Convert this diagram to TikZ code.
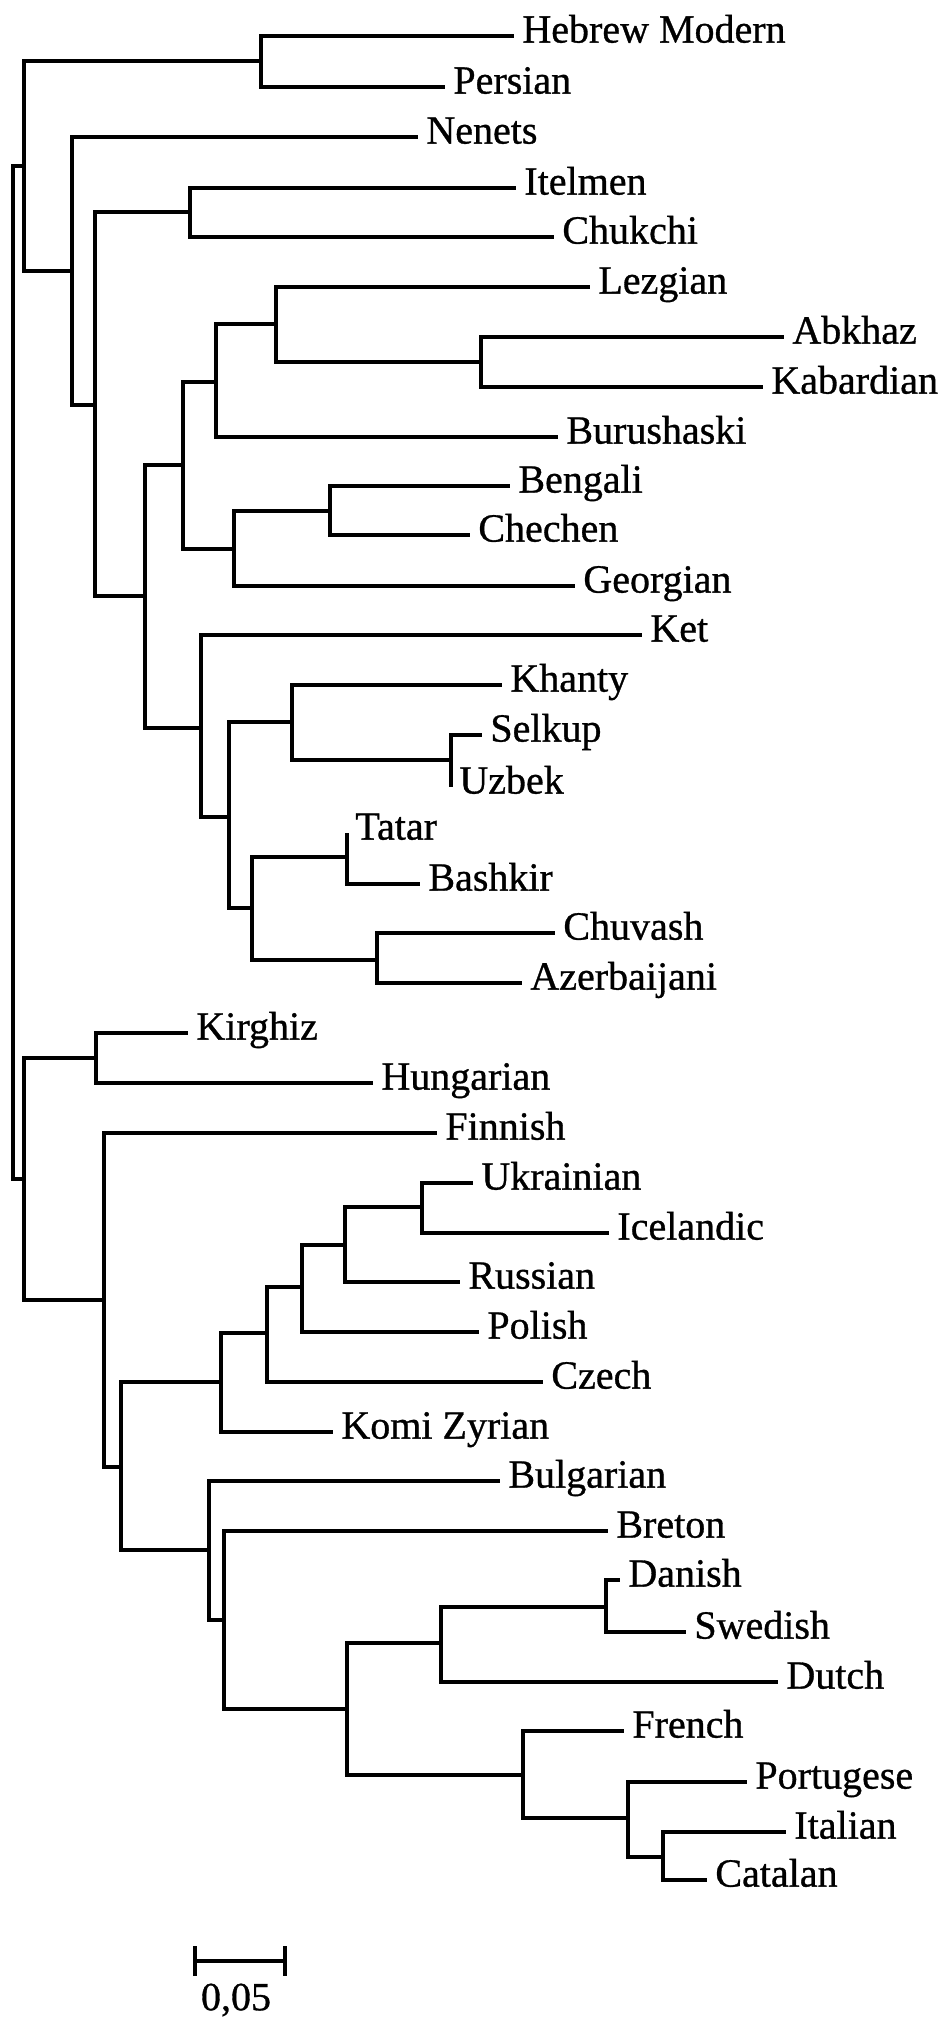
\documentclass[tikz,border=0pt]{standalone}
\usepackage{fontspec}
\setmainfont{Liberation Serif}
\newfontfamily\leaffont{Liberation Serif}[FakeBold=0.8]
\usetikzlibrary{arrows.meta}

\begin{document}
\begin{tikzpicture}[x=0.5pt,y=-0.5pt]
\tikzstyle{leaf} = [anchor=west, inner xsep=4pt, inner ysep=0pt, text height=0.66em, text depth=0pt, font=\leaffont\fontsize{20}{24}\selectfont]
\tikzstyle{branch} = [draw, line width=1.8pt]
\useasboundingbox (0,0) rectangle (945,2017);
% inner nodes
\coordinate (root) at (13,672);
\coordinate (nA) at (24,166);
\coordinate (nHP) at (261,61);
\coordinate (nN) at (72,271);
\coordinate (nC) at (95,405);
\coordinate (nIC) at (190,212);
\coordinate (nD) at (145,596);
\coordinate (nE) at (183,465);
\coordinate (nF) at (216,382);
\coordinate (nL) at (276,324);
\coordinate (nAK) at (481,362);
\coordinate (nG) at (234,549);
\coordinate (nBC) at (330,511);
\coordinate (nK) at (201,728);
\coordinate (nT) at (229,817);
\coordinate (nKh) at (292,722);
\coordinate (nSU) at (451,760);
\coordinate (nTu) at (252,908);
\coordinate (nTB) at (347,857);
\coordinate (nCA) at (377,960);
\coordinate (nB) at (24,1179);
\coordinate (nKH) at (96,1058);
\coordinate (nFi) at (104,1300);
\coordinate (nIE) at (121,1467);
\coordinate (nSl) at (221,1382);
\coordinate (nS2) at (267,1333);
\coordinate (nS3) at (302,1287);
\coordinate (nS4) at (345,1245);
\coordinate (nUI) at (422,1207);
\coordinate (nRo) at (209,1550);
\coordinate (nBr) at (224,1620);
\coordinate (nGR) at (347,1709);
\coordinate (nGm) at (441,1643);
\coordinate (nDS) at (606,1607);
\coordinate (nRm) at (523,1775);
\coordinate (nPI) at (628,1818);
\coordinate (nIt) at (663,1857);
% leaves
\node [leaf] (hebrew) at (514,36) {Hebrew Modern};
\node [leaf] (persian) at (445,87) {Persian};
\node [leaf] (nenets) at (418,137) {Nenets};
\node [leaf] (itelmen) at (516,188) {Itelmen};
\node [leaf] (chukchi) at (554,237) {Chukchi};
\node [leaf] (lezgian) at (590,287) {Lezgian};
\node [leaf] (abkhaz) at (784,337) {Abkhaz};
\node [leaf] (kabardian) at (763,387) {Kabardian};
\node [leaf] (burushaski) at (558,437) {Burushaski};
\node [leaf] (bengali) at (510,486) {Bengali};
\node [leaf] (chechen) at (470,535) {Chechen};
\node [leaf] (georgian) at (575,586) {Georgian};
\node [leaf] (ket) at (642,635) {Ket};
\node [leaf] (khanty) at (502,685) {Khanty};
\node [leaf] (selkup) at (482,735) {Selkup};
\node [leaf] (uzbek) at (451,787) {Uzbek};
\node [leaf] (tatar) at (347,833) {Tatar};
\node [leaf] (bashkir) at (420,884) {Bashkir};
\node [leaf] (chuvash) at (555,933) {Chuvash};
\node [leaf] (azerbaijani) at (522,983) {Azerbaijani};
\node [leaf] (kirghiz) at (188,1033) {Kirghiz};
\node [leaf] (hungarian) at (373,1083) {Hungarian};
\node [leaf] (finnish) at (437,1133) {Finnish};
\node [leaf] (ukrainian) at (473,1183) {Ukrainian};
\node [leaf] (icelandic) at (609,1233) {Icelandic};
\node [leaf] (russian) at (460,1282) {Russian};
\node [leaf] (polish) at (479,1332) {Polish};
\node [leaf] (czech) at (543,1382) {Czech};
\node [leaf] (komi) at (333,1432) {Komi Zyrian};
\node [leaf] (bulgarian) at (500,1481) {Bulgarian};
\node [leaf] (breton) at (608,1531) {Breton};
\node [leaf] (danish) at (620,1580) {Danish};
\node [leaf] (swedish) at (686,1632) {Swedish};
\node [leaf] (dutch) at (778,1682) {Dutch};
\node [leaf] (french) at (624,1731) {French};
\node [leaf] (portugese) at (747,1782) {Portugese};
\node [leaf] (italian) at (786,1832) {Italian};
\node [leaf] (catalan) at (707,1880) {Catalan};
% branches
\draw [branch] (root) |- (nA) (root) |- (nB);
\draw [branch] (nA) |- (nHP) (nA) |- (nN);
\draw [branch] (nHP) |- (hebrew) (nHP) |- (persian);
\draw [branch] (nN) |- (nenets) (nN) |- (nC);
\draw [branch] (nC) |- (nIC) (nC) |- (nD);
\draw [branch] (nIC) |- (itelmen) (nIC) |- (chukchi);
\draw [branch] (nD) |- (nE) (nD) |- (nK);
\draw [branch] (nE) |- (nF) (nE) |- (nG);
\draw [branch] (nF) |- (nL) (nF) |- (burushaski);
\draw [branch] (nL) |- (lezgian) (nL) |- (nAK);
\draw [branch] (nAK) |- (abkhaz) (nAK) |- (kabardian);
\draw [branch] (nG) |- (nBC) (nG) |- (georgian);
\draw [branch] (nBC) |- (bengali) (nBC) |- (chechen);
\draw [branch] (nK) |- (ket) (nK) |- (nT);
\draw [branch] (nT) |- (nKh) (nT) |- (nTu);
\draw [branch] (nKh) |- (khanty) (nKh) |- (nSU);
\draw [branch] (nSU) |- (selkup) (nSU) |- (uzbek);
\draw [branch] (nTu) |- (nTB) (nTu) |- (nCA);
\draw [branch] (nTB) |- (tatar) (nTB) |- (bashkir);
\draw [branch] (nCA) |- (chuvash) (nCA) |- (azerbaijani);
\draw [branch] (nB) |- (nKH) (nB) |- (nFi);
\draw [branch] (nKH) |- (kirghiz) (nKH) |- (hungarian);
\draw [branch] (nFi) |- (finnish) (nFi) |- (nIE);
\draw [branch] (nIE) |- (nSl) (nIE) |- (nRo);
\draw [branch] (nSl) |- (nS2) (nSl) |- (komi);
\draw [branch] (nS2) |- (nS3) (nS2) |- (czech);
\draw [branch] (nS3) |- (nS4) (nS3) |- (polish);
\draw [branch] (nS4) |- (nUI) (nS4) |- (russian);
\draw [branch] (nUI) |- (ukrainian) (nUI) |- (icelandic);
\draw [branch] (nRo) |- (bulgarian) (nRo) |- (nBr);
\draw [branch] (nBr) |- (breton) (nBr) |- (nGR);
\draw [branch] (nGR) |- (nGm) (nGR) |- (nRm);
\draw [branch] (nGm) |- (nDS) (nGm) |- (dutch);
\draw [branch] (nDS) |- (danish) (nDS) |- (swedish);
\draw [branch] (nRm) |- (french) (nRm) |- (nPI);
\draw [branch] (nPI) |- (portugese) (nPI) |- (nIt);
\draw [branch] (nIt) |- (italian) (nIt) |- (catalan);
% scale bar
\coordinate (bar0) at (193,1961);
\coordinate (bar1) at (287,1961);
\draw [branch, {Bar[width=15pt]}-{Bar[width=15pt]}] (bar0) -- (bar1);
\node [font=\leaffont\fontsize{20}{24}\selectfont, inner sep=0pt] (barlabel) at (236,2000) {0,05};
\end{tikzpicture}
\end{document}
